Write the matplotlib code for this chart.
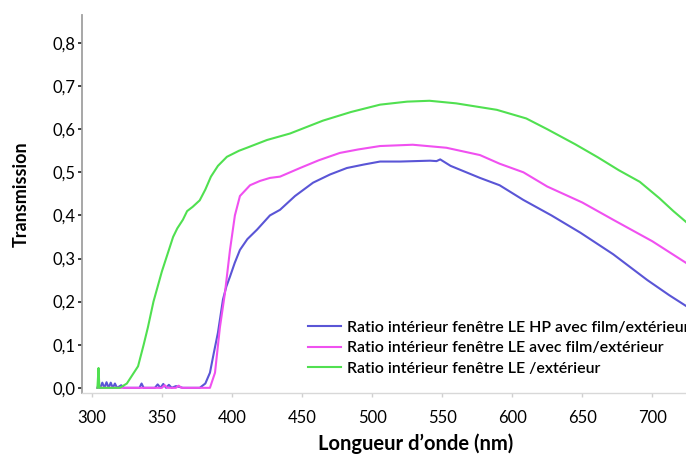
import matplotlib
matplotlib.use("Agg")
import matplotlib.pyplot as plt

# Wavelength (nm) and transmission readings
wl_hp = [304, 306, 307.5, 309, 310.5, 312, 313.5, 315, 316.5, 318, 321, 323, 330, 334, 335.5, 337,
         345, 347, 349, 351, 353, 355, 357, 360, 365, 370, 377, 381, 384.3, 387, 390, 393.6, 396,
         398.6, 402, 405.7, 411, 417.9, 427.1, 434.3, 445, 457.9, 470, 482, 494, 505.7, 520, 541.4,
         546, 548.6, 556, 577, 591, 607.9, 628, 648.6, 672, 696.4, 712, 724]
t_hp = [0.0, 0.0, 0.012, 0.0, 0.013, 0.0, 0.012, 0.0, 0.01, 0.0, 0.006, 0.0, 0.0, 0.0, 0.01, 0.0,
        0.0, 0.008, 0.0, 0.009, 0.0, 0.007, 0.0, 0.004, 0.0, 0.0, 0.0, 0.01, 0.035, 0.08, 0.128, 0.205, 0.235,
        0.258, 0.29, 0.32, 0.345, 0.367, 0.4, 0.413, 0.445, 0.476, 0.495, 0.51, 0.518, 0.525, 0.525, 0.527,
        0.526, 0.53, 0.515, 0.487, 0.47, 0.436, 0.4, 0.36, 0.31, 0.25, 0.215, 0.19]

wl_le_film = [304, 320, 340, 350, 352, 354, 360, 362, 364, 370, 380, 384.3, 387.9, 391.4, 395, 398.6,
              402.1, 405.7, 412.9, 420, 427.1, 434.3, 448.6, 462, 477, 490, 505.7, 529, 553, 577, 591,
              608, 625, 650, 672, 700, 724]
t_le_film = [0.0, 0.0, 0.0, 0.0, 0.006, 0.0, 0.0, 0.005, 0.0, 0.0, 0.0, 0.0, 0.035, 0.14, 0.22, 0.32,
             0.4, 0.445, 0.47, 0.48, 0.487, 0.49, 0.51, 0.528, 0.545, 0.553, 0.561, 0.564, 0.557, 0.54, 0.52,
             0.5, 0.467, 0.43, 0.39, 0.34, 0.29]

wl_le = [304, 304.8, 305.4, 306, 320, 325, 329, 333, 337, 340, 344, 350, 354, 358, 361, 365, 368, 372,
         377, 381, 385, 390, 396.4, 405, 410.7, 425, 441.4, 465, 485, 505.7, 525, 541, 560, 589,
         610, 625, 645, 661, 676, 691, 705, 715, 724]
t_le = [0.0, 0.046, 0.0, 0.0, 0.0, 0.01, 0.03, 0.05, 0.1, 0.14, 0.2, 0.27, 0.31, 0.35, 0.37, 0.39,
        0.41, 0.42, 0.435, 0.46, 0.49, 0.515, 0.536, 0.55, 0.557, 0.575, 0.59, 0.62, 0.64, 0.657, 0.664,
        0.666, 0.66, 0.645, 0.625, 0.6, 0.565, 0.535, 0.505, 0.478, 0.44, 0.41, 0.385]

labels = ["Ratio intérieur fenêtre LE HP avec film/extérieur",
          "Ratio intérieur fenêtre LE avec film/extérieur",
          "Ratio intérieur fenêtre LE /extérieur"]
colors = ["#5a55d6", "#f050f0", "#50e050"]

x_ticks = [300, 350, 400, 450, 500, 550, 600, 650, 700]
y_ticks = [0.0, 0.1, 0.2, 0.3, 0.4, 0.5, 0.6, 0.7, 0.8]
y_tick_labels = ["0,0", "0,1", "0,2", "0,3", "0,4", "0,5", "0,6", "0,7", "0,8"]

plt.rcParams['font.family'] = ['Lato', 'DejaVu Sans']

fig = plt.figure(figsize=(6.86, 4.54), dpi=100)
ax = fig.add_axes([82 / 686, 1 - 393 / 454, 1 - 82 / 686, (393 - 15) / 454])

ax.plot(wl_hp, t_hp, color=colors[0], lw=1.5, label=labels[0])
ax.plot(wl_le_film, t_le_film, color=colors[1], lw=1.5, label=labels[1])
ax.plot(wl_le, t_le, color=colors[2], lw=1.5, label=labels[2])

ax.set_xlim(293, 724)
ax.set_ylim(-0.012, 0.865)
ax.set_xticks(x_ticks)
ax.set_yticks(y_ticks)
ax.set_yticklabels(y_tick_labels)

for s in ["top", "right"]:
    ax.spines[s].set_visible(False)
ax.spines["left"].set_color("#a0a0a0")
ax.spines["left"].set_linewidth(1.3)
ax.spines["bottom"].set_color("#d8d8d8")
ax.spines["bottom"].set_linewidth(1.0)

ax.tick_params(axis="y", direction="out", length=3, width=1.2, color="#202020",
               labelsize=12, pad=2)
ax.tick_params(axis="x", direction="out", length=3, width=1.0, color="#d0d0d0",
               labelsize=12, pad=9)

ax.set_ylabel("Transmission", fontsize=13, fontweight="bold")
ax.yaxis.set_label_coords((30 - 82) / 604, (393 - 194) / 378)
ax.set_xlabel("Longueur d\u2019onde (nm)", fontsize=14.5, fontweight="bold")
ax.xaxis.set_label_coords((416 - 82) / 604, (393 - 433) / 378)

leg = ax.legend(loc="upper left", bbox_to_anchor=(300 / 686, 1 - 313 / 454),
                bbox_transform=fig.transFigure, frameon=False, fontsize=11.4,
                handlelength=2.1, handletextpad=0.35, labelspacing=0.4, borderpad=0)
for t in leg.get_texts():
    t.set_fontweight("semibold")

fig.savefig("out.png", dpi=100)
